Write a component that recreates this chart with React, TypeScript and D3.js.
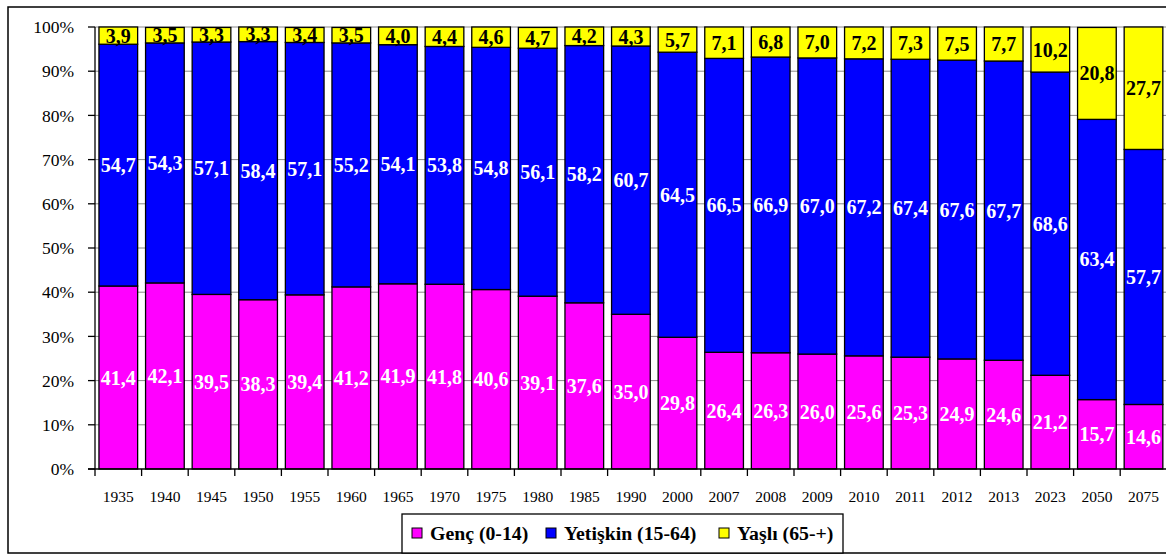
import * as d3 from "d3";
import { useEffect, useRef } from "react";

const years = ["1935", "1940", "1945", "1950", "1955", "1960", "1965", "1970", "1975", "1980", "1985", "1990", "2000", "2007", "2008", "2009", "2010", "2011", "2012", "2013", "2023", "2050", "2075"];
const genc = [41.4, 42.1, 39.5, 38.3, 39.4, 41.2, 41.9, 41.8, 40.6, 39.1, 37.6, 35.0, 29.8, 26.4, 26.3, 26.0, 25.6, 25.3, 24.9, 24.6, 21.2, 15.7, 14.6];
const yetiskin = [54.7, 54.3, 57.1, 58.4, 57.1, 55.2, 54.1, 53.8, 54.8, 56.1, 58.2, 60.7, 64.5, 66.5, 66.9, 67.0, 67.2, 67.4, 67.6, 67.7, 68.6, 63.4, 57.7];
const yasli = [3.9, 3.5, 3.3, 3.3, 3.4, 3.5, 4.0, 4.4, 4.6, 4.7, 4.2, 4.3, 5.7, 7.1, 6.8, 7.0, 7.2, 7.3, 7.5, 7.7, 10.2, 20.8, 27.7];
const yTicks = [0, 10, 20, 30, 40, 50, 60, 70, 80, 90, 100];

const series = [
  { name: "Genç (0-14)", values: genc, color: "#ff00ff", text: "#ffffff" },
  { name: "Yetişkin (15-64)", values: yetiskin, color: "#0000ff", text: "#ffffff" },
  { name: "Yaşlı (65-+)", values: yasli, color: "#ffff00", text: "#000000" },
];

const W = 1166, H = 554;
const FONT = '"Liberation Serif", "Times New Roman", Times, serif';

export default function App() {
  const ref = useRef<SVGSVGElement>(null);

  useEffect(() => {
    const svg = d3.select(ref.current);
    svg.selectAll("*").remove();

    // outer frame
    svg.append("rect").attr("x", 8).attr("y", 7).attr("width", 1170).attr("height", 546)
      .attr("fill", "#fff").attr("stroke", "#000").attr("stroke-width", 1.5);

    const x = d3.scaleBand().domain(years).range([95, 95 + 23 * 46.6]).paddingInner(0.17).paddingOuter(0.085);
    const y = d3.scaleLinear().domain([0, 100]).range([469, 27]);
    const half = (x.step() - x.bandwidth()) / 2;

    // gridlines
    svg.append("g").selectAll("line").data(yTicks.slice(1)).enter().append("line")
      .attr("x1", 95).attr("x2", W).attr("y1", (d) => y(d)).attr("y2", (d) => y(d))
      .attr("stroke", "#888").attr("stroke-width", 1);

    // stacked bars
    const rows = years.map((yr, i) => ({ yr, v: series.map((s) => s.values[i]) }));
    const g = svg.append("g");
    rows.forEach((r) => {
      let acc = 0;
      r.v.forEach((val, k) => {
        const y0 = acc, y1 = acc + val;
        acc = y1;
        g.append("rect")
          .attr("x", x(r.yr)!).attr("width", x.bandwidth())
          .attr("y", y(y1)).attr("height", y(y0) - y(y1))
          .attr("fill", series[k].color).attr("stroke", "#000").attr("stroke-width", 1.3);
        g.append("text")
          .attr("x", x(r.yr)! + x.bandwidth() / 2).attr("y", y((y0 + y1) / 2))
          .attr("dy", "0.35em").attr("text-anchor", "middle")
          .style("font-family", FONT).attr("font-weight", "bold").attr("font-size", 20)
          .attr("fill", series[k].text)
          .text(val.toFixed(1).replace(".", ","));
      });
    });

    // axes
    svg.append("line").attr("x1", 95).attr("x2", 95).attr("y1", 27).attr("y2", 469).attr("stroke", "#000").attr("stroke-width", 1.3);
    svg.append("line").attr("x1", 88).attr("x2", W).attr("y1", 469).attr("y2", 469).attr("stroke", "#000").attr("stroke-width", 1.3);
    svg.append("g").selectAll("line").data(yTicks).enter().append("line")
      .attr("x1", 88).attr("x2", 95).attr("y1", (d) => y(d)).attr("y2", (d) => y(d)).attr("stroke", "#000").attr("stroke-width", 1.3);
    svg.append("g").selectAll("text").data(yTicks).enter().append("text")
      .attr("x", 74).attr("y", (d) => y(d)).attr("dy", "0.35em").attr("text-anchor", "end")
      .style("font-family", FONT).attr("font-size", 17.5).text((d) => d + "%");
    svg.append("g").selectAll("line").data(years).enter().append("line")
      .attr("x1", (d) => x(d)! - half).attr("x2", (d) => x(d)! - half)
      .attr("y1", 469).attr("y2", 476).attr("stroke", "#000").attr("stroke-width", 1.3);
    svg.append("g").selectAll("text").data(years).enter().append("text")
      .attr("x", (d) => x(d)! + x.bandwidth() / 2).attr("y", 497).attr("dy", "0.35em").attr("text-anchor", "middle")
      .style("font-family", FONT).attr("font-size", 15.5).text((d) => d);

    // legend
    const lg = svg.append("g");
    lg.append("rect").attr("x", 402).attr("y", 514).attr("width", 441).attr("height", 39)
      .attr("fill", "#fff").attr("stroke", "#000").attr("stroke-width", 1.3);
    const lx = [412, 546, 719];
    series.forEach((s, k) => {
      lg.append("rect").attr("x", lx[k]).attr("y", 528).attr("width", 10).attr("height", 10)
        .attr("fill", s.color).attr("stroke", "#000").attr("stroke-width", 1);
      lg.append("text").attr("x", lx[k] + 18).attr("y", 533).attr("dy", "0.35em")
        .style("font-family", FONT).attr("font-weight", "bold").attr("font-size", 19.8).text(s.name);
    });
  }, []);

  return (
    <div style={{ position: "absolute", left: 0, top: 0 }}>
      <svg ref={ref} width={W} height={H} style={{ display: "block" }} />
    </div>
  );
}
